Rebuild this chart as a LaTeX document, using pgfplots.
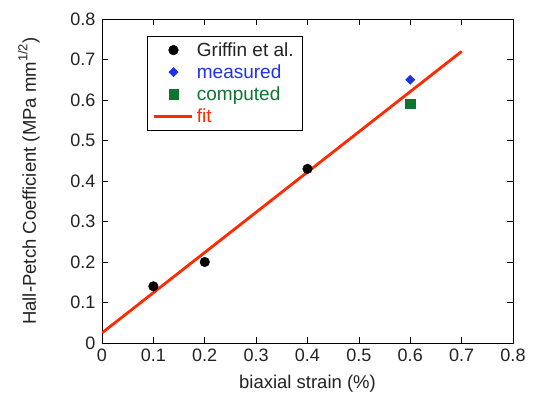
\documentclass[border=0pt]{standalone}
\usepackage{pgfplots}
\pgfplotsset{compat=1.18}
\usepackage{fontspec}
\setmainfont{Liberation Sans}
\definecolor{tickgray}{HTML}{222222}
\definecolor{mblue}{HTML}{1F32E6}
\definecolor{mgreen}{HTML}{0E7430}
\definecolor{mred}{HTML}{FF2A00}
\pgfplotsset{
  marklegend/.style={legend image code/.code={\draw[##1, mark repeat=2, mark phase=2] plot coordinates {(0pt,0pt)(19pt,0pt)(38pt,0pt)};}},
  linelegend/.style={legend image code/.code={\draw[##1] (0pt,0pt) -- (38pt,0pt);}},
}
\begin{document}
\begin{tikzpicture}
\begin{axis}[
  scale only axis,
  width=411pt, height=324pt,
  xmin=0, xmax=0.8, ymin=0, ymax=0.8,
  xtick={0,0.1,...,0.8}, ytick={0,0.1,...,0.8},
  xticklabels={0,0.1,0.2,0.3,0.4,0.5,0.6,0.7,0.8},
  yticklabels={0,0.1,0.2,0.3,0.4,0.5,0.6,0.7,0.8},
  tick align=inside,
  major tick length=6pt,
  tick style={black, line width=0.6pt},
  axis line style={black, line width=0.8pt},
  ticklabel style={font=\fontsize{18}{20}\selectfont, text=tickgray},
  xticklabel style={yshift=-2pt},
  yticklabel style={xshift=-3pt},
  /pgf/number format/assume math mode=true,
  xlabel={biaxial strain (\%)},
  ylabel={Hall-Petch Coefficient (MPa mm\textsuperscript{\raisebox{2pt}{1/2}})},
  xlabel style={at={(axis description cs:0.5,-0.127)}, anchor=center,
    font=\fontsize{18.5}{20}\selectfont, text=tickgray},
  ylabel style={at={(axis description cs:-0.178,0.5)}, anchor=center,
    font=\fontsize{18.5}{20}\selectfont, text=tickgray},
  legend style={at={(0.109,0.947)}, anchor=north west, draw=black, line width=0.6pt,
    font=\fontsize{19}{20}\selectfont, row sep=2.8pt, inner xsep=6pt, inner ysep=4pt,
    nodes={inner xsep=3pt}},
  legend cell align=left,
]
\addplot[only marks, mark=*, mark size=4.8pt, black, marklegend]
  coordinates {(0.1,0.14) (0.2,0.2) (0.4,0.43)};
\addlegendentry{\textcolor{tickgray}{Griffin et al.}}
\addplot[only marks, mark=square*, mark size=3.2pt, mark options={rotate=45}, mblue, marklegend]
  coordinates {(0.6,0.65)};
\addlegendentry{\textcolor{mblue}{measured}}
\addplot[only marks, mark=square*, mark size=4.6pt, mgreen, marklegend]
  coordinates {(0.6,0.59)};
\addlegendentry{\textcolor{mgreen}{computed}}
\addplot[mred, line width=2.8pt, linelegend] coordinates {(0,0.025) (0.7,0.72)};
\addlegendentry{\textcolor{mred}{fit}}
\end{axis}
\path (-102pt,-48pt) rectangle (431pt,343pt);
\end{tikzpicture}
\end{document}
